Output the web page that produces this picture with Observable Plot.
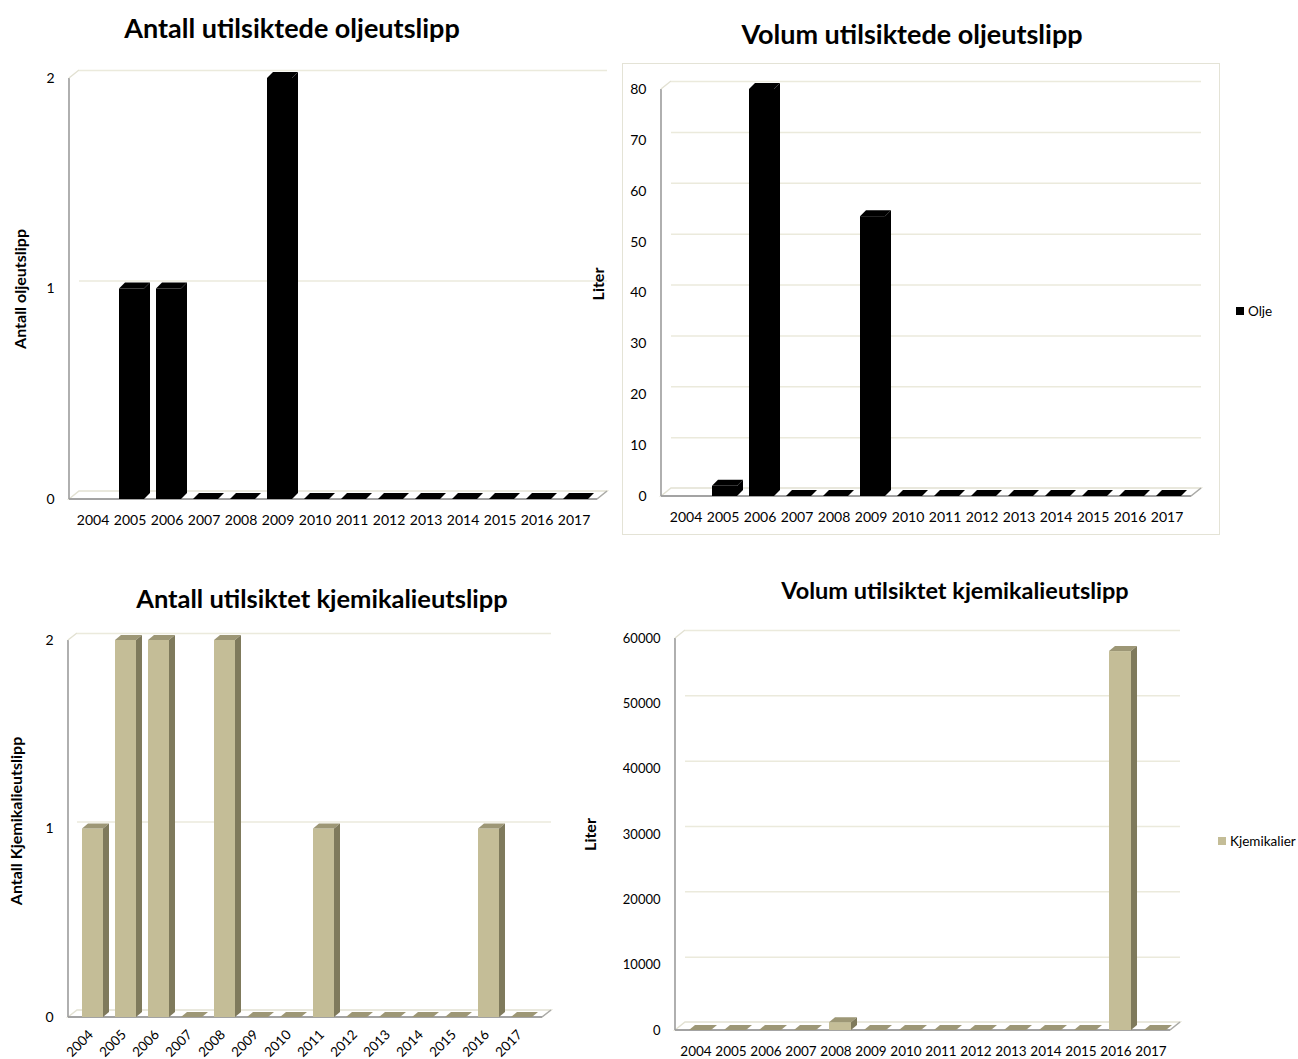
<!DOCTYPE html>
<html lang="no">
<head>
<meta charset="utf-8">
<title>Utilsiktede utslipp 2004–2017</title>
<script src="https://cdn.jsdelivr.net/npm/d3@7"></script>
<script src="https://cdn.jsdelivr.net/npm/@observablehq/plot@0.6"></script>
<style>
  body { margin: 0; background: #fff; font-family: Lato, "Open Sans", sans-serif; color: #000; }
  #page { position: relative; width: 1298px; height: 1059px; overflow: hidden; background: #fff; }
  .title { position: absolute; font-weight: bold; white-space: nowrap; transform: translate(-50%, -50%); }
  .panel { position: absolute; }
  .panel svg { overflow: visible; background: transparent; }
  .box { position: absolute; border: 1px solid #e4e3d6; }
  .legend { position: absolute; display: flex; align-items: center; font-size: 13.5px; white-space: nowrap; }
  .legend .sw { width: 8px; height: 8px; margin-right: 4px; }
</style>
</head>
<body>
<div id="page"></div>
<script>
// Years on the category axis
const years = ["2004", "2005", "2006", "2007", "2008", "2009", "2010", "2011", "2012", "2013", "2014", "2015", "2016", "2017"];

// Number of unintended oil spills (2004 has no entry)
const oilCount = [null, 1, 1, 0, 0, 2, 0, 0, 0, 0, 0, 0, 0, 0];
// Volume of unintended oil spills, litres
const oilVolume = [null, 2, 80, 0, 0, 55, 0, 0, 0, 0, 0, 0, 0, 0];
// Number of unintended chemical spills
const chemCount = [1, 2, 2, 0, 2, 0, 0, 1, 0, 0, 0, 0, 1, 0];
// Volume of unintended chemical spills, litres
const chemVolume = [0, 0, 0, 0, 1200, 0, 0, 0, 0, 0, 0, 0, 58000, 0];

// Value-axis ticks
const countTicks = [0, 1, 2];
const oilVolumeTicks = [0, 10, 20, 30, 40, 50, 60, 70, 80];
const chemVolumeTicks = [0, 10000, 20000, 30000, 40000, 50000, 60000];

// Series names for the legends
const oilSeries = "Olje";
const chemSeries = "Kjemikalier";

const OIL = {front: "#000000", top: "#000000", side: "#000000"};
const CHEM = {front: "#c4bd97", top: "#9d9776", side: "#7f7a5c"};

const page = document.getElementById("page");

// Adds a top face and a right side face to every bar rect Plot draws.
function extrude(depthX, depthY, colors) {
  return function (index, scales, values, dimensions, context, next) {
    const g = next(index, scales, values, dimensions, context);
    const ns = "http://www.w3.org/2000/svg";
    for (const r of Array.from(g.querySelectorAll("rect"))) {
      const x = +r.getAttribute("x"), y = +r.getAttribute("y");
      const w = +r.getAttribute("width"), h = +r.getAttribute("height");
      const top = document.createElementNS(ns, "polygon");
      top.setAttribute("points", [[x, y], [x + depthX, y - depthY], [x + w + depthX, y - depthY], [x + w, y]].join(" "));
      top.setAttribute("fill", colors.top);
      const side = document.createElementNS(ns, "polygon");
      side.setAttribute("points", [[x + w, y], [x + w + depthX, y - depthY], [x + w + depthX, y + h - depthY], [x + w, y + h]].join(" "));
      side.setAttribute("fill", colors.side);
      r.after(top, side);
    }
    return g;
  };
}

// Floor, left wall edge and value axis line of the 3-D plot area.
function wall(depthX, depthY) {
  return (index, scales, values, dims) => {
    const L = dims.marginLeft, R = dims.width - dims.marginRight;
    const y0 = scales.y(0), yT = dims.marginTop;
    const g = d3.create("svg:g").attr("fill", "none");
    g.append("polygon")
      .attr("points", `${L},${y0} ${L + depthX},${y0 - depthY} ${R + depthX},${y0 - depthY} ${R},${y0}`)
      .attr("stroke", "#e2e1d2").attr("stroke-width", 1.5);
    g.append("line").attr("x1", L).attr("x2", R).attr("y1", y0).attr("y2", y0)
      .attr("stroke", "#a3a3a3").attr("stroke-width", 1.8);
    g.append("line").attr("x1", R).attr("x2", R + depthX).attr("y1", y0).attr("y2", y0 - depthY)
      .attr("stroke", "#a8a8a8").attr("stroke-width", 1.2);
    g.append("line").attr("x1", L).attr("x2", L).attr("y1", yT).attr("y2", y0)
      .attr("stroke", "#9c9c9c").attr("stroke-width", 1.6);
    g.append("line").attr("x1", L).attr("x2", L + depthX).attr("y1", yT).attr("y2", yT - depthY)
      .attr("stroke", "#e2e1d2").attr("stroke-width", 1.5);
    return g.node();
  };
}

function panel(cfg) {
  const rows = years.map((year, i) => ({year, zero: 0, value: cfg.values[i]})).filter((d) => d.value != null);
  const yMax = cfg.ticks[cfg.ticks.length - 1];
  const chart = Plot.plot({
    width: cfg.width,
    height: cfg.height,
    marginLeft: cfg.margin[0],
    marginRight: cfg.margin[1],
    marginTop: cfg.margin[2],
    marginBottom: cfg.margin[3],
    style: {fontFamily: "Lato, 'Open Sans', sans-serif", fontSize: cfg.fontSize + "px", color: "#000", background: "transparent", overflow: "visible"},
    x: {type: "band", domain: years, padding: 0},
    y: {domain: [0, yMax], nice: false},
    marks: [
      wall(cfg.wallDepth[0], cfg.wallDepth[1]),
      Plot.ruleY(cfg.ticks.filter((t) => t > 0), {dx: cfg.wallDepth[0], dy: -cfg.wallDepth[1], stroke: "#ebeadc", strokeWidth: 1.5}),
      Plot.barY(rows, {
        x: "year", y1: "zero", y2: "value", fill: cfg.colors.front,
        insetLeft: cfg.inset[0], insetRight: cfg.inset[1],
        render: extrude(cfg.barDepth[0], cfg.barDepth[1], cfg.colors)
      }),
      Plot.axisY({ticks: cfg.ticks, tickSize: 0, tickPadding: cfg.yPad, tickFormat: (d) => String(d), label: null, fontSize: cfg.yFont}),
      Plot.axisX({tickSize: 0, tickPadding: cfg.xPad, label: null, tickRotate: cfg.rotate || 0, dx: cfg.xDx || 0}),
      Plot.text([cfg.yLabel], {
        text: (d) => d, frameAnchor: "left", dx: cfg.yLabelOffset[0], dy: cfg.yLabelOffset[1],
        rotate: -90, textAnchor: "middle", lineAnchor: "middle", fontWeight: "bold", fontSize: 16, fill: "#000"
      })
    ]
  });
  const div = document.createElement("div");
  div.className = "panel";
  div.style.left = cfg.left + "px";
  div.style.top = cfg.top + "px";
  div.style.width = cfg.width + "px";
  div.appendChild(chart);
  page.appendChild(div);

  const t = document.createElement("div");
  t.className = "title";
  t.textContent = cfg.title;
  t.style.left = cfg.titlePos[0] + "px";
  t.style.top = cfg.titlePos[1] + "px";
  t.style.fontSize = cfg.titleSize + "px";
  page.appendChild(t);
}

function legend(name, color, x, y) {
  const l = document.createElement("div");
  l.className = "legend";
  l.style.left = x + "px";
  l.style.top = y + "px";
  l.style.transform = "translateY(-50%)";
  const sw = document.createElement("span");
  sw.className = "sw";
  sw.style.background = color;
  const label = document.createElement("span");
  label.textContent = name;
  l.append(sw, label);
  page.appendChild(l);
}

// Chart-area border of the oil-volume chart
const box = document.createElement("div");
box.className = "box";
Object.assign(box.style, {left: "622px", top: "63px", width: "596px", height: "470px"});
page.appendChild(box);

panel({
  title: "Antall utilsiktede oljeutslipp", titlePos: [292, 27], titleSize: 27,
  values: oilCount, ticks: countTicks, colors: OIL,
  left: 0, top: 40, width: 620, height: 510, margin: [69, 23, 38, 51],
  wallDepth: [10, 8], barDepth: [6, 6], inset: [8, 4],
  yPad: 15, xPad: 16, fontSize: 14, yFont: 14,
  yLabel: "Antall oljeutslipp", yLabelOffset: [-49, 0]
});

panel({
  title: "Volum utilsiktede oljeutslipp", titlePos: [912, 33], titleSize: 27,
  values: oilVolume, ticks: oilVolumeTicks, colors: OIL,
  left: 610, top: 60, width: 620, height: 480, margin: [51, 39, 29, 44],
  wallDepth: [10, 8], barDepth: [6, 6], inset: [8, 4],
  yPad: 15, xPad: 16, fontSize: 14, yFont: 14,
  yLabel: "Liter", yLabelOffset: [-63, -9]
});
legend(oilSeries, OIL.front, 1236, 311);

panel({
  title: "Antall utilsiktet kjemikalieutslipp", titlePos: [322, 598], titleSize: 25.5,
  values: chemCount, ticks: countTicks, colors: CHEM,
  left: 0, top: 610, width: 570, height: 449, margin: [68, 28, 30, 42],
  wallDepth: [9, 7], barDepth: [6, 5], inset: [8, 4],
  yPad: 15, xPad: 15, fontSize: 13.5, yFont: 14, rotate: -45, xDx: 0,
  yLabel: "Antall Kjemikalieutslipp", yLabelOffset: [-52, -8]
});

panel({
  title: "Volum utilsiktet kjemikalieutslipp", titlePos: [955, 590], titleSize: 23.5,
  values: chemVolume, ticks: chemVolumeTicks, colors: CHEM,
  left: 600, top: 610, width: 600, height: 449, margin: [75, 30, 28, 29],
  wallDepth: [10, 8], barDepth: [6, 5], inset: [11, 2],
  yPad: 15, xPad: 16, fontSize: 13.5, yFont: 13,
  yLabel: "Liter", yLabelOffset: [-85, 0]
});
legend(chemSeries, CHEM.front, 1218, 841);
</script>
</body>
</html>
